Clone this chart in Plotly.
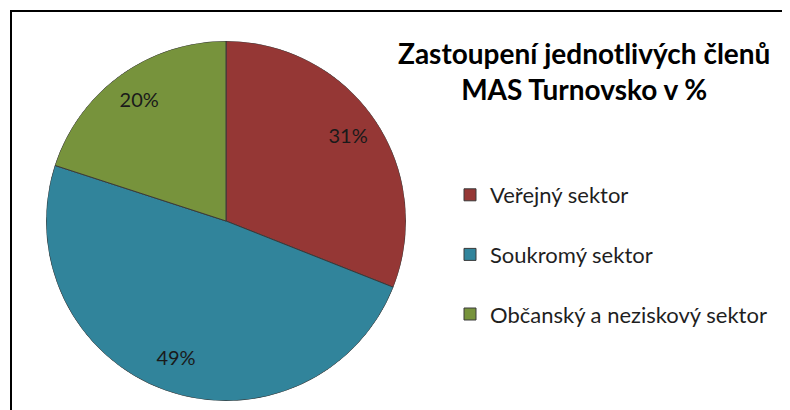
import numpy as np
import plotly.graph_objects as go

# page body has an 8px margin: build the figure 8px smaller and offset by -8px
OFF = 8
W, H = 790 - OFF, 410 - OFF

title_text = "Zastoupení jednotlivých členů<br>MAS Turnovsko v %"
categories = ["Veřejný sektor", "Soukromý sektor", "Občanský a neziskový sektor"]
values = [31, 49, 20]
colors = ["#953735", "#31849B", "#77933C"]

FONT = "Lato"


def px_x(x):
    return (x - OFF) / W


def px_y(y):
    return 1 - (y - OFF) / H


# pie geometry (reference pixels)
CX, CY, R = 226, 221, 180
dom = dict(x=[px_x(CX - R), px_x(CX + R)], y=[px_y(CY + R), px_y(CY - R)])

vals = np.array(values, dtype=float)
share = vals / vals.sum()
width_deg = share * 360
mid_theta = (np.cumsum(vals) - vals / 2) / vals.sum() * 360
pct_text = [f"{s:.0%}" for s in share]

fig = go.Figure()

# pie wedges drawn as polar bars (clockwise from 12 o'clock)
fig.add_trace(go.Barpolar(
    r=[1] * len(vals), theta=mid_theta, width=width_deg,
    marker=dict(color=colors, line=dict(color="#3a3a3a", width=1)),
    customdata=categories, text=pct_text,
    hovertemplate="%{customdata}: %{text}<extra></extra>",
    showlegend=False,
))

# percentage labels at the slice mid-angles
fig.add_trace(go.Scatterpolar(
    r=[0.82] * len(vals), theta=mid_theta, mode="text", text=pct_text,
    textfont=dict(family=FONT, size=20, color="#1a1a1a"),
    showlegend=False, hoverinfo="skip",
))

for i, (cat, col) in enumerate(zip(categories, colors)):
    fig.add_trace(go.Scatter(
        x=[None], y=[None], mode="markers", name=cat,
        legendgroup=f"g{i}",
        marker=dict(symbol="square", size=12, color=col,
                    line=dict(color="#3a3a3a", width=1)),
    ))

fig.add_shape(type="rect", xref="paper", yref="paper",
              x0=px_x(11), x1=1.2, y0=-0.2, y1=px_y(11),
              line=dict(color="black", width=2), fillcolor="rgba(0,0,0,0)")

fig.add_annotation(
    text=title_text, xref="paper", yref="paper",
    x=px_x(584), y=px_y(34), xanchor="center", yanchor="top",
    showarrow=False, align="center",
    font=dict(family=FONT, size=28, color="black", weight="bold"),
)

fig.update_layout(
    width=W, height=H,
    margin=dict(l=0, r=0, t=0, b=0),
    paper_bgcolor="white", plot_bgcolor="white",
    xaxis=dict(visible=False), yaxis=dict(visible=False),
    polar=dict(
        domain=dom, bgcolor="rgba(0,0,0,0)", bargap=0,
        radialaxis=dict(range=[0, 1], visible=False, showgrid=False),
        angularaxis=dict(rotation=90, direction="clockwise", visible=False,
                         showgrid=False),
    ),
    legend=dict(
        x=px_x(450), y=px_y(174), xanchor="left", yanchor="top",
        font=dict(family=FONT, size=22, color="#1f1f1f"),
        itemwidth=30, tracegroupgap=28,
        bgcolor="rgba(0,0,0,0)",
    ),
)

fig.write_html("out.html")
